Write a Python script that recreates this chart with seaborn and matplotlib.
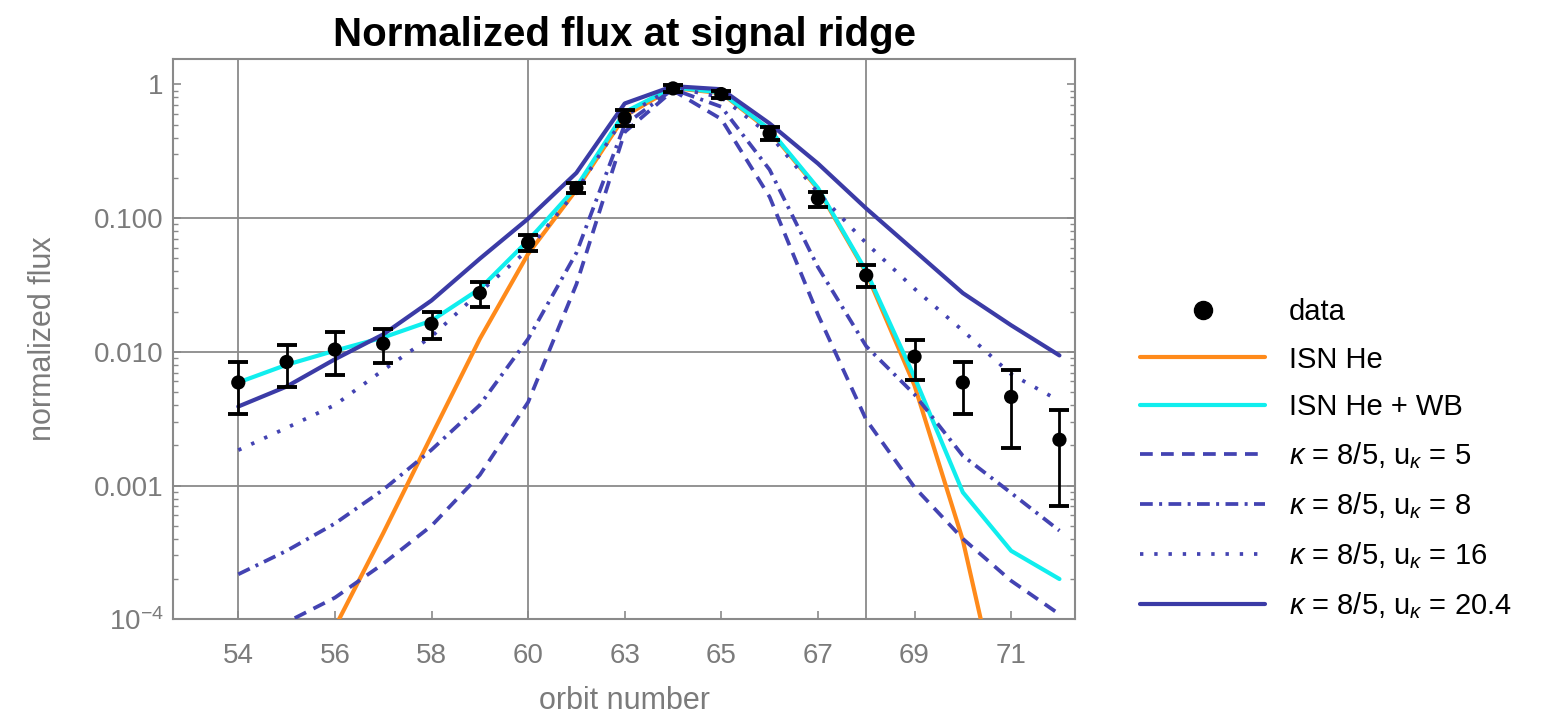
import numpy as np
import matplotlib
matplotlib.use("Agg")
import matplotlib.pyplot as plt
from matplotlib.lines import Line2D
from matplotlib.ticker import FixedLocator, FixedFormatter, LogLocator, NullFormatter
import seaborn as sns

# ---- data -------------------------------------------------------------
orbits = [54, 55, 56, 57, 58, 59, 60, 61, 63, 64, 65, 66, 67, 68, 69, 70, 71, 72]

flux = [0.0059, 0.0084, 0.0104, 0.0115, 0.0162, 0.0275, 0.0655, 0.168, 0.562,
        0.933, 0.846, 0.430, 0.140, 0.0373, 0.0092, 0.0059, 0.0046, 0.0022]
flux_err = [0.0025, 0.0029, 0.0037, 0.0032, 0.0037, 0.0058, 0.0092, 0.015, 0.077,
            0.06, 0.05, 0.047, 0.018, 0.007, 0.0030, 0.0025, 0.0027, 0.0015]

isn_he = [3.2e-6, 1.7e-5, 8.7e-5, 4.4e-4, 2.36e-3, 1.25e-2, 0.054, 0.163, 0.58,
          0.94, 0.86, 0.45, 0.165, 0.039, 0.0056, 0.00039, 1.0e-5, 3e-7]
isn_he_wb = [0.0059, 0.0080, 0.0102, 0.0128, 0.0171, 0.0296, 0.068, 0.171, 0.62,
             0.95, 0.87, 0.46, 0.168, 0.040, 0.00645, 0.00089, 0.000325, 0.0002]
kappa_u5 = [6.3e-5, 9.5e-5, 1.45e-4, 2.6e-4, 5.0e-4, 1.2e-3, 4.2e-3, 0.032, 0.44,
            0.90, 0.55, 0.144, 0.019, 0.0031, 0.00097, 0.00040, 0.000194, 0.000109]
kappa_u8 = [0.000217, 0.000325, 0.00052, 0.00093, 0.00185, 0.0040, 0.0125, 0.055, 0.50,
            0.92, 0.68, 0.23, 0.043, 0.011, 0.0048, 0.00167, 0.00088, 0.00046]
kappa_u16 = [0.00184, 0.0027, 0.0040, 0.0073, 0.0130, 0.028, 0.058, 0.16, 0.58,
             0.95, 0.80, 0.42, 0.155, 0.065, 0.0296, 0.0144, 0.0068, 0.0043]
kappa_u20 = [0.0039, 0.0055, 0.0088, 0.0135, 0.0242, 0.0497, 0.099, 0.218, 0.72,
             0.97, 0.92, 0.51, 0.256, 0.118, 0.057, 0.0275, 0.0158, 0.0094]

tick_orbits = [54, 56, 58, 60, 63, 65, 67, 69, 71]
grid_orbits = [54, 60, 68]
y_ticks = [1e-4, 1e-3, 1e-2, 1e-1, 1]
y_tick_labels = [r"$10^{-4}$", "0.001", "0.010", "0.100", "1"]

series_labels = ["data", "ISN He", "ISN He + WB",
                 r"$\kappa$ = 8/5, u$_{\kappa}$ = 5",
                 r"$\kappa$ = 8/5, u$_{\kappa}$ = 8",
                 r"$\kappa$ = 8/5, u$_{\kappa}$ = 16",
                 r"$\kappa$ = 8/5, u$_{\kappa}$ = 20.4"]

# ---- style ------------------------------------------------------------
sns.set_theme(style="white")
plt.rcParams["font.family"] = ["Liberation Sans", "DejaVu Sans"]
plt.rcParams["mathtext.fontset"] = "custom"
plt.rcParams["mathtext.rm"] = "Liberation Sans"
plt.rcParams["mathtext.it"] = "Liberation Sans:italic"

ORANGE = "#ff8a1a"
CYAN = "#10eeee"
NAVY = "#3b3ba6"
KBLUE = "#4343b2"
GRID = "#8a8a8a"
TICKTXT = "#7b7b7b"

LW = 3.0
KW = 2.7
DASHED = (0, (3.4, 2.2))
DASHDOT = (0, (3.4, 1.7, 0.8, 1.7))
DOTTED = (0, (0.9, 2.9))

pos = np.arange(len(orbits))
idx = {o: i for i, o in enumerate(orbits)}

fig = plt.figure(figsize=(15.54, 7.17), dpi=100)
ax = fig.add_axes([0.1115, 0.1363, 0.5802, 0.7815])

styles = [
    (isn_he, ORANGE, "-", LW),
    (isn_he_wb, CYAN, "-", LW),
    (kappa_u5, KBLUE, DASHED, KW),
    (kappa_u8, KBLUE, DASHDOT, KW),
    (kappa_u16, KBLUE, DOTTED, KW),
    (kappa_u20, NAVY, "-", LW),
]
for vals, col, ls, w in styles:
    sns.lineplot(x=pos, y=vals, ax=ax, color=col, linestyle=ls, linewidth=w,
                 legend=False, zorder=3)

ax.errorbar(pos, flux, yerr=flux_err, fmt="none", ecolor="black",
            elinewidth=2.0, capsize=7, capthick=2.8, zorder=5)
sns.scatterplot(x=pos, y=flux, ax=ax, color="black", s=105,
                edgecolor="none", zorder=6, legend=False)

# ---- axes -------------------------------------------------------------
ax.set_yscale("log")
ax.set_ylim(1e-4, 1.55)
ax.set_xlim(-1.346, 17.32)

ax.xaxis.set_major_locator(FixedLocator([idx[o] for o in tick_orbits]))
ax.xaxis.set_major_formatter(FixedFormatter([str(o) for o in tick_orbits]))
ax.yaxis.set_major_locator(FixedLocator(y_ticks))
ax.yaxis.set_major_formatter(FixedFormatter(y_tick_labels))
ax.yaxis.set_minor_locator(LogLocator(base=10, subs=np.arange(2, 10) * 1.0, numticks=20))
ax.yaxis.set_minor_formatter(NullFormatter())

for i in [idx[o] for o in grid_orbits]:
    ax.axvline(i, color=GRID, lw=1.3, zorder=1)
for yv in [1e-3, 1e-2, 1e-1]:
    ax.axhline(yv, color=GRID, lw=1.3, zorder=1)
ax.grid(False)

for sp in ax.spines.values():
    sp.set_color(GRID)
    sp.set_linewidth(1.5)

ax.tick_params(axis="both", which="both", direction="in", colors=GRID,
               labelcolor=TICKTXT, labelsize=20)
ax.tick_params(axis="y", which="both", left=True, right=True)
ax.tick_params(axis="y", which="major", length=6, width=1.2, pad=7)
ax.tick_params(axis="y", which="minor", length=3.5, width=1.0)
ax.tick_params(axis="x", which="major", bottom=True, top=False, length=6,
               width=1.2, pad=17)
ax.tick_params(axis="x", which="minor", bottom=False, top=False)

ax.set_xlabel("orbit number", fontsize=22, color=TICKTXT, labelpad=12)
ax.set_ylabel("normalized flux", fontsize=22, color=TICKTXT, labelpad=26)
ax.set_title("Normalized flux at signal ridge", fontsize=29, fontweight="bold",
             color="black", pad=9)

# ---- legend -----------------------------------------------------------
handles = [
    Line2D([], [], marker="o", color="black", ls="none", markersize=13),
    Line2D([], [], color=ORANGE, lw=LW),
    Line2D([], [], color=CYAN, lw=LW),
    Line2D([], [], color=KBLUE, lw=KW, ls=DASHED),
    Line2D([], [], color=KBLUE, lw=KW, ls=DASHDOT),
    Line2D([], [], color=KBLUE, lw=KW, ls=DOTTED),
    Line2D([], [], color=NAVY, lw=LW),
]
leg = fig.legend(handles, series_labels, loc="upper left",
                 bbox_to_anchor=(0.7336, 0.584), frameon=False, fontsize=21,
                 handlelength=4.3, handletextpad=0.8, labelspacing=0.66,
                 borderpad=0, borderaxespad=0)
for t in leg.get_texts():
    t.set_color("black")

fig.savefig("out.png", dpi=100)
